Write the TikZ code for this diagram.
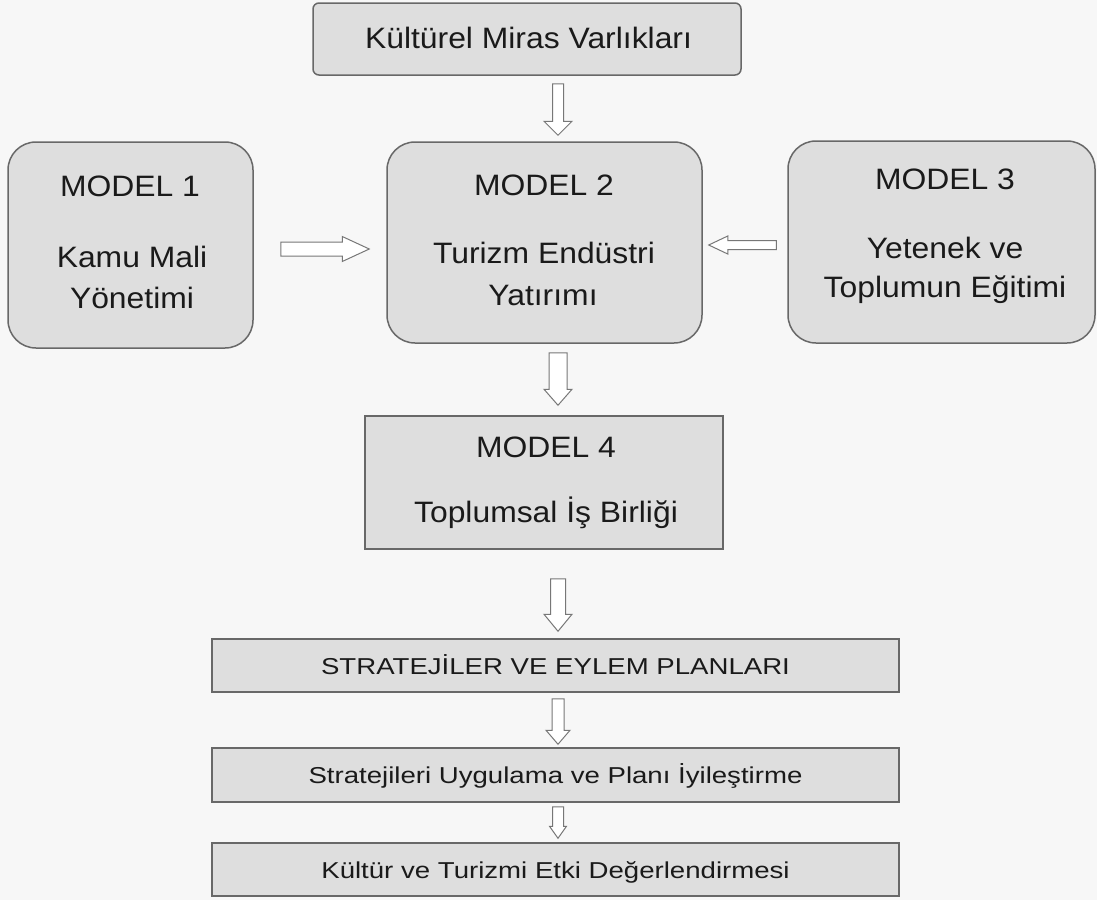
\documentclass[tikz,border=0pt]{standalone}
\usepackage{fontspec}
\setmainfont{Liberation Sans}
\newfontfamily\bigfam{Liberation Sans}[FakeStretch=1.08]
\newfontfamily\smallfam{Liberation Sans}[FakeStretch=1.2]
\usetikzlibrary{calc}

\definecolor{bgcol}{HTML}{F7F7F7}
\definecolor{boxfill}{HTML}{DEDEDE}
\definecolor{boxline}{HTML}{686868}
\definecolor{arrowline}{HTML}{777777}
\definecolor{inkcol}{HTML}{1A1A1A}

\tikzset{
  panel/.style={draw=boxline, fill=boxfill, line width=1.5pt, inner sep=0pt},
  roundpanel/.style={panel, rounded corners=28pt},
  bigtxt/.style={inner sep=0pt, anchor=base, text=inkcol,
    font=\bigfam\fontsize{29.5pt}{35pt}\selectfont},
  smalltxt/.style={inner sep=0pt, anchor=base, text=inkcol,
    font=\smallfam\fontsize{23pt}{28pt}\selectfont},
  blockarrow/.style={draw=arrowline, fill=white, line width=1pt, line join=miter},
}

% downward block arrow: start, tip, shaft half width, head half width, head length
\newcommand{\vblock}[5]{%
  \draw[blockarrow] let \p1=(#1), \p2=(#2) in
    (\x1-#3pt,\y1) -- (\x1+#3pt,\y1) -- (\x1+#3pt,\y2+#5pt) -- (\x1+#4pt,\y2+#5pt)
    -- (\x1,\y2) -- (\x1-#4pt,\y2+#5pt) -- (\x1-#3pt,\y2+#5pt) -- cycle;}
% rightward block arrow
\newcommand{\rblock}[5]{%
  \draw[blockarrow] let \p1=(#1), \p2=(#2) in
    (\x1,\y1+#3pt) -- (\x2-#5pt,\y1+#3pt) -- (\x2-#5pt,\y1+#4pt) -- (\x2,\y1)
    -- (\x2-#5pt,\y1-#4pt) -- (\x2-#5pt,\y1-#3pt) -- (\x1,\y1-#3pt) -- cycle;}
% leftward block arrow
\newcommand{\lblock}[5]{%
  \draw[blockarrow] let \p1=(#1), \p2=(#2) in
    (\x1,\y1+#3pt) -- (\x2+#5pt,\y1+#3pt) -- (\x2+#5pt,\y1+#4pt) -- (\x2,\y1)
    -- (\x2+#5pt,\y1-#4pt) -- (\x2+#5pt,\y1-#3pt) -- (\x1,\y1-#3pt) -- cycle;}

\begin{document}
\begin{tikzpicture}[x=1pt, y=-1pt]
  \fill[bgcol] (0,0) rectangle (1097,900);
  \useasboundingbox (0,0) rectangle (1097,900);

  % boxes
  \node[panel, rounded corners=6pt, minimum width=428pt, minimum height=72pt] (top) at (527,39) {};
  \node[roundpanel, minimum width=245pt, minimum height=206pt] (m1) at (130.5,245) {};
  \node[roundpanel, minimum width=315pt, minimum height=201pt] (m2) at (544.5,242.5) {};
  \node[roundpanel, minimum width=307pt, minimum height=202pt] (m3) at (941.5,242) {};
  \node[panel, minimum width=358pt, minimum height=133pt] (m4) at (544,482.5) {};
  \node[panel, minimum width=687pt, minimum height=53pt] (s1) at (555.5,665.5) {};
  \node[panel, minimum width=687pt, minimum height=54pt] (s2) at (555.5,775) {};
  \node[panel, minimum width=687pt, minimum height=53pt] (s3) at (555.5,869.5) {};

  % texts
  \node[bigtxt] (topt) at (528.5,48) {Kültürel Miras Varlıkları};

  \node[bigtxt] (m1a) at (130,196) {MODEL 1};
  \node[bigtxt] (m1b) at (132,267) {Kamu Mali};
  \node[bigtxt] (m1c) at (132,308) {Yönetimi};

  \node[bigtxt] (m2a) at (544,195) {MODEL 2};
  \node[bigtxt] (m2b) at (544,263) {Turizm Endüstri};
  \node[bigtxt] (m2c) at (543,305) {Yatırımı};

  \node[bigtxt] (m3a) at (945,189) {MODEL 3};
  \node[bigtxt] (m3b) at (945,258) {Yetenek ve};
  \node[bigtxt] (m3c) at (945,297) {Toplumun Eğitimi};

  \node[bigtxt] (m4a) at (546,457) {MODEL 4};
  \node[bigtxt] (m4b) at (546,522) {Toplumsal İş Birliği};

  \node[smalltxt] (s1t) at (555.5,674) {STRATEJİLER VE EYLEM PLANLARI};
  \node[smalltxt] (s2t) at (555.5,783) {Stratejileri Uygulama ve Planı İyileştirme};
  \node[smalltxt] (s3t) at (555.5,878) {Kültür ve Turizmi Etki Değerlendirmesi};

  % arrow axes
  \coordinate (ax) at (558,0);
  \coordinate (hr) at (0,249);
  \coordinate (hl) at (0,245);

  \coordinate (a1s) at ($(ax |- top.south)+(0,8)$);
  \coordinate (a1e) at ($(ax |- m2.north)+(0,-6)$);
  \coordinate (a2s) at ($(ax |- m2.south)+(0,9)$);
  \coordinate (a2e) at ($(ax |- m4.north)+(0,-10)$);
  \coordinate (a3s) at ($(ax |- m4.south)+(0,29)$);
  \coordinate (a3e) at ($(ax |- s1.north)+(0,-7)$);
  \coordinate (a4s) at ($(ax |- s1.south)+(0,6)$);
  \coordinate (a4e) at ($(ax |- s2.north)+(0,-3)$);
  \coordinate (a5s) at ($(ax |- s2.south)+(0,4)$);
  \coordinate (a5e) at ($(ax |- s3.north)+(0,-4)$);
  \coordinate (ars) at ($(m1.east |- hr)+(27,0)$);
  \coordinate (are) at ($(m2.west |- hr)+(-17,0)$);
  \coordinate (als) at ($(m3.west |- hl)+(-11,0)$);
  \coordinate (ale) at ($(m2.east |- hl)+(6,0)$);

  \vblock{a1s}{a1e}{5.5}{14}{14}
  \vblock{a2s}{a2e}{9}{14}{16}
  \vblock{a3s}{a3e}{7.5}{14}{17}
  \vblock{a4s}{a4e}{6}{12}{14}
  \vblock{a5s}{a5e}{5.5}{8.5}{12}
  \rblock{ars}{are}{7}{12.5}{27}
  \lblock{als}{ale}{4.5}{9}{19}
\end{tikzpicture}
\end{document}
